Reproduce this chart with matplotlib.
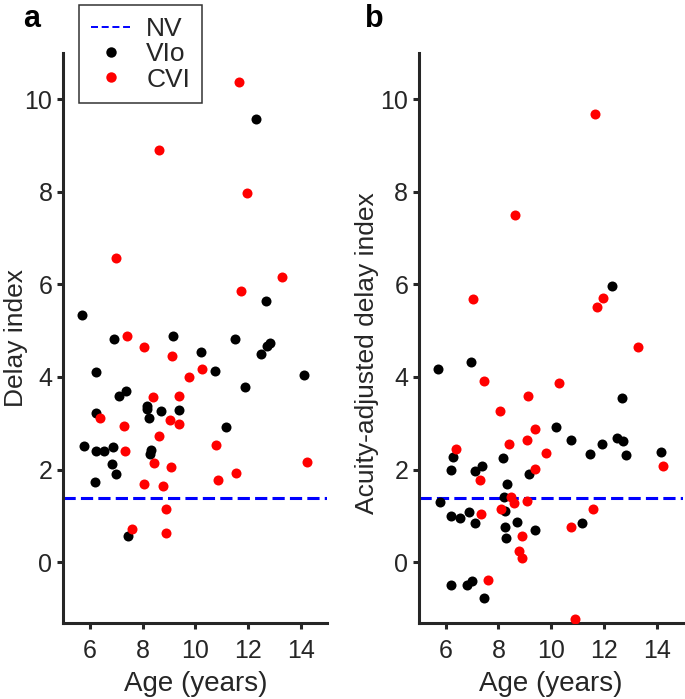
import numpy as np
import matplotlib
matplotlib.use("Agg")
import matplotlib.pyplot as plt
from matplotlib.lines import Line2D

plt.rcParams['font.family'] = ['Liberation Sans', 'DejaVu Sans']

NV_LEVEL = 1.38

# panel a: delay index
vio_age_a = [12.30, 12.69, 5.70, 6.93, 9.17, 10.20, 11.49, 12.51, 12.73, 12.83,
             6.25, 10.76, 14.14, 7.10, 7.37, 11.90, 8.18, 8.16, 8.25, 8.70,
             9.39, 6.25, 11.17, 5.78, 6.88, 6.23, 6.53, 8.31, 8.29, 6.84,
             6.99, 6.20, 7.45]
vio_delay_a = [9.57, 5.64, 5.33, 4.81, 4.88, 4.54, 4.81, 4.49, 4.67, 4.73,
               4.11, 4.13, 4.04, 3.58, 3.69, 3.78, 3.37, 3.30, 3.12, 3.27,
               3.28, 3.21, 2.92, 2.51, 2.48, 2.41, 2.41, 2.42, 2.33, 2.13,
               1.90, 1.73, 0.57]
cvi_age_a = [11.65, 8.63, 11.97, 7.00, 13.30, 11.74, 7.42, 8.06, 9.11, 9.78,
             10.25, 8.39, 9.38, 6.38, 9.06, 9.40, 7.30, 8.62, 10.77, 7.32,
             8.45, 9.07, 14.23, 11.56, 10.88, 8.07, 8.76, 8.88, 7.61, 8.88]
cvi_delay_a = [10.37, 8.90, 7.97, 6.56, 6.16, 5.86, 4.89, 4.65, 4.45, 4.00,
               4.16, 3.57, 3.59, 3.12, 3.08, 2.99, 2.95, 2.72, 2.54, 2.40,
               2.15, 2.06, 2.17, 1.92, 1.77, 1.68, 1.64, 1.15, 0.72, 0.62]

# panel b: acuity-adjusted delay index
vio_age_b = [5.71, 6.95, 12.69, 10.19, 10.74, 12.49, 12.73, 11.92, 11.46, 12.83,
             14.17, 6.27, 8.18, 6.22, 7.12, 7.36, 9.17, 8.31, 8.20, 5.78,
             8.26, 6.22, 6.55, 6.88, 7.12, 8.69, 11.17, 8.25, 9.38, 8.29,
             6.22, 6.80, 6.99, 7.46, 12.30]
vio_delay_b = [4.18, 4.33, 3.55, 2.91, 2.64, 2.69, 2.62, 2.56, 2.34, 2.31,
               2.38, 2.27, 2.24, 2.00, 1.97, 2.08, 1.90, 1.68, 1.41, 1.29,
               1.11, 1.00, 0.96, 1.08, 0.84, 0.86, 0.85, 0.75, 0.70, 0.53,
               -0.50, -0.50, -0.40, -0.78, 5.96]
cvi_age_b = [11.68, 8.62, 7.04, 11.97, 11.74, 13.29, 7.46, 10.28, 9.11, 8.07,
             9.37, 9.07, 8.40, 9.81, 14.23, 6.41, 9.40, 7.32, 8.48, 8.60,
             9.07, 8.10, 11.60, 7.33, 10.76, 8.90, 8.77, 8.90, 7.61, 10.89]
cvi_delay_b = [9.68, 7.49, 5.68, 5.70, 5.50, 4.65, 3.91, 3.86, 3.59, 3.27,
               2.87, 2.63, 2.56, 2.36, 2.08, 2.45, 2.01, 1.77, 1.41, 1.27,
               1.33, 1.14, 1.14, 1.04, 0.76, 0.57, 0.24, 0.10, -0.38, -1.23]

DARK = '#262626'


def style_axes(ax, ylabel, label_x, label_y):
    for side in ['top', 'right']:
        ax.spines[side].set_visible(False)
    for side in ['left', 'bottom']:
        ax.spines[side].set_linewidth(2.2)
        ax.spines[side].set_color(DARK)
    ax.set_xlim(5, 15)
    ax.set_ylim(-1.32, 11)
    ax.set_xticks([6, 8, 10, 12, 14])
    ax.set_yticks([0, 2, 4, 6, 8, 10])
    ax.tick_params(width=2.2, length=4, color=DARK, labelcolor=DARK,
                   labelsize=18, pad=4)
    ax.tick_params(axis='x', pad=7)
    ax.set_xlabel('Age (years)', fontsize=20, color=DARK, labelpad=6)
    ax.set_ylabel(ylabel, fontsize=19, color=DARK)
    ax.yaxis.set_label_coords(label_x, label_y)


def draw_panel(ax, vio_x, vio_y, cvi_x, cvi_y):
    ax.axhline(NV_LEVEL, color='#0000ff', lw=2.2, linestyle=(0, (4, 1.7)),
               zorder=1)
    ax.scatter(vio_x, vio_y, s=52, color='black', linewidths=0, zorder=2)
    ax.scatter(cvi_x, cvi_y, s=52, color='#ff0000', linewidths=0, zorder=3)


fig = plt.figure(figsize=(6.85, 6.99), dpi=100)
ax_a = fig.add_axes([0.0927, 0.1083, 0.3847, 0.8163])
ax_b = fig.add_axes([0.6121, 0.1083, 0.3850, 0.8163])

draw_panel(ax_a, vio_age_a, vio_delay_a, cvi_age_a, cvi_delay_a)
draw_panel(ax_b, vio_age_b, vio_delay_b, cvi_age_b, cvi_delay_b)
style_axes(ax_a, 'Delay index', -0.136, 0.5)
style_axes(ax_b, 'Acuity-adjusted delay index', -0.154, 0.474)

handles = [
    Line2D([], [], color='#0000ff', lw=1.4, linestyle=(0, (3.6, 1.9))),
    Line2D([], [], color='black', marker='o', linestyle='none', markersize=7.5,
           markeredgewidth=0),
    Line2D([], [], color='#ff0000', marker='o', linestyle='none', markersize=7.5,
           markeredgewidth=0),
]
leg = fig.legend(handles, ['NV', 'VIo', 'CVI'], loc='upper left',
                 bbox_to_anchor=(79 / 685, 1 - 5 / 699), fontsize=19,
                 frameon=True, fancybox=False, handlelength=1.5,
                 handletextpad=0.6, labelspacing=0.05, borderpad=0.45,
                 borderaxespad=0)
leg.get_frame().set_edgecolor('black')
leg.get_frame().set_linewidth(1.1)
for t in leg.get_texts():
    t.set_color(DARK)

fig.text(23 / 685, 1 - 27 / 699, 'a', fontsize=22, fontweight='bold',
         va='baseline', ha='left')
fig.text(365 / 685, 1 - 27 / 699, 'b', fontsize=22, fontweight='bold',
         va='baseline', ha='left')

fig.savefig('out.png', dpi=100)
